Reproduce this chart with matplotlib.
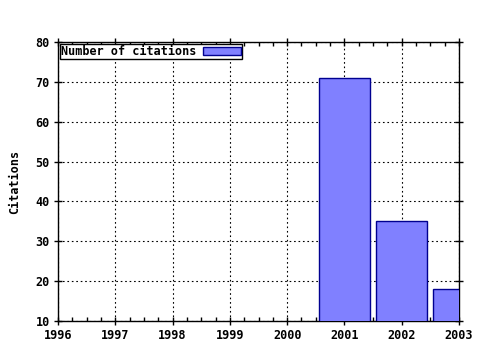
import matplotlib
matplotlib.use("Agg")
import matplotlib.pyplot as plt
from matplotlib.ticker import MultipleLocator

years = [2001, 2002, 2003]
citations = [71, 35, 18]
xticks = [1996, 1997, 1998, 1999, 2000, 2001, 2002, 2003]
yticks = [10, 20, 30, 40, 50, 60, 70, 80]

plt.rcParams['font.family'] = 'DejaVu Sans Mono'
plt.rcParams['font.weight'] = 'bold'
plt.rcParams['font.size'] = 8.5

fig = plt.figure(figsize=(4.8, 3.5), dpi=100)
ax = fig.add_axes([58/480, 1 - 321/350, (459-58)/480, (321-42)/350])

ax.bar(years, citations, width=0.9, bottom=0, color='#8080ff', edgecolor='#000090',
       linewidth=1, label='Number of citations', zorder=3)

ax.set_xlim(1996, 2003)
ax.set_ylim(10, 80)
ax.set_xticks(xticks)
ax.set_yticks(yticks)
ax.xaxis.set_minor_locator(MultipleLocator(0.25))
ax.grid(True, which='major', color='black', linestyle=(0, (1.5, 2.5)), linewidth=0.8, zorder=1)
ax.tick_params(which='major', direction='inout', length=6, top=True, right=True, width=1, pad=3)
ax.tick_params(which='minor', direction='in', length=3, top=True, right=True, width=1)
for s in ax.spines.values():
    s.set_linewidth(1)
ax.set_ylabel('Citations', fontweight='bold', fontsize=8.5, labelpad=10)

leg = ax.legend(loc='upper left', markerfirst=False, fancybox=False, framealpha=1,
                edgecolor='black', borderpad=0.1, handlelength=3.2, handleheight=0.6,
                handletextpad=0.6, borderaxespad=0.15, prop={'weight': 'bold', 'size': 8.5})
leg.get_frame().set_linewidth(1)

fig.savefig('out.png', dpi=100)
